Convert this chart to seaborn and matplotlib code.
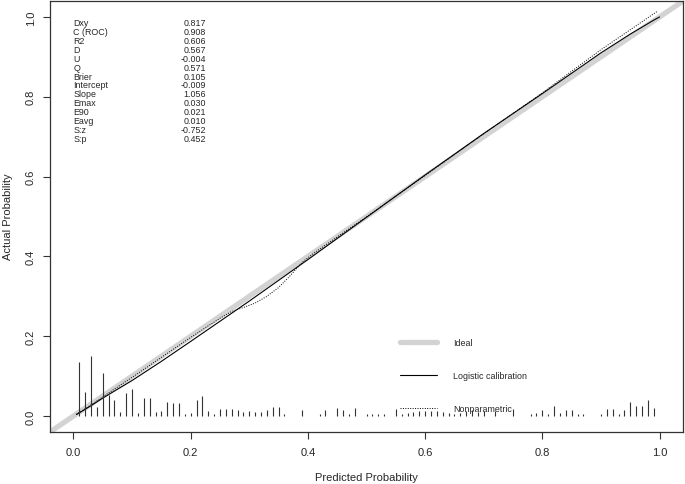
import matplotlib
matplotlib.use("Agg")
import matplotlib.pyplot as plt
import seaborn as sns
import numpy as np
import pandas as pd

# ---- data ----
stat_names = ["Dxy", "C (ROC)", "R2", "D", "U", "Q", "Brier", "Intercept",
              "Slope", "Emax", "E90", "Eavg", "S:z", "S:p"]
stat_values = ["0.817", "0.908", "0.606", "0.567", "-0.004", "0.571", "0.105",
               "-0.009", "1.056", "0.030", "0.021", "0.010", "-0.752", "0.452"]

logistic_x = [0.005, 0.01, 0.03, 0.05, 0.10, 0.15, 0.20, 0.30, 0.40, 0.50,
              0.60, 0.70, 0.80, 0.90, 0.95, 0.99, 1.00]
logistic_y = [0.004, 0.008, 0.026, 0.045, 0.089, 0.137, 0.187, 0.288, 0.392,
              0.498, 0.604, 0.708, 0.808, 0.910, 0.957, 0.992, 1.000]

nonpar_x = [0.005, 0.03, 0.06, 0.10, 0.15, 0.20, 0.23, 0.25, 0.27, 0.29,
            0.31, 0.33, 0.35, 0.37, 0.39, 0.41, 0.45, 0.50, 0.60, 0.70,
            0.80, 0.90, 0.95, 0.997]
nonpar_y = [0.004, 0.028, 0.058, 0.097, 0.147, 0.197, 0.226, 0.245, 0.262,
            0.272, 0.283, 0.300, 0.322, 0.352, 0.385, 0.408, 0.449, 0.499,
            0.603, 0.707, 0.810, 0.918, 0.968, 1.015]

spike_x = [0.01, 0.02, 0.03, 0.04, 0.05, 0.06, 0.07, 0.08, 0.09, 0.10,
           0.11, 0.12, 0.13, 0.14, 0.15, 0.16, 0.17, 0.18, 0.19, 0.20,
           0.21, 0.22, 0.23, 0.24, 0.25, 0.26, 0.27, 0.28, 0.29, 0.30,
           0.31, 0.32, 0.33, 0.34, 0.35, 0.36, 0.39, 0.42, 0.43, 0.45,
           0.46, 0.47, 0.48, 0.50, 0.51, 0.52, 0.53, 0.55, 0.56, 0.57,
           0.58, 0.59, 0.60, 0.61, 0.62, 0.63, 0.64, 0.65, 0.66, 0.67,
           0.68, 0.69, 0.70, 0.72, 0.75, 0.78, 0.79, 0.80, 0.81, 0.82,
           0.83, 0.84, 0.85, 0.86, 0.87, 0.90, 0.91, 0.92, 0.93, 0.94,
           0.95, 0.96, 0.97, 0.98, 0.99]
spike_h = [0.136, 0.059, 0.150, 0.023, 0.109, 0.053, 0.040, 0.011, 0.058, 0.068,
           0.007, 0.044, 0.044, 0.011, 0.013, 0.036, 0.032, 0.032, 0.005, 0.007,
           0.040, 0.050, 0.013, 0.005, 0.017, 0.017, 0.017, 0.015, 0.011, 0.013,
           0.010, 0.010, 0.014, 0.023, 0.023, 0.006, 0.014, 0.006, 0.014, 0.020,
           0.014, 0.006, 0.020, 0.006, 0.006, 0.006, 0.006, 0.018, 0.005, 0.008,
           0.010, 0.012, 0.012, 0.012, 0.012, 0.010, 0.008, 0.005, 0.008, 0.012,
           0.015, 0.010, 0.012, 0.012, 0.018, 0.005, 0.008, 0.015, 0.006, 0.025,
           0.008, 0.014, 0.014, 0.005, 0.004, 0.006, 0.018, 0.018, 0.006, 0.014,
           0.035, 0.024, 0.024, 0.040, 0.020]

legend_labels = ["Ideal", "Logistic calibration", "Nonparametric"]
x_ticks = [0.0, 0.2, 0.4, 0.6, 0.8, 1.0]
y_ticks = [0.0, 0.2, 0.4, 0.6, 0.8, 1.0]

# ---- style ----
sns.set_style("ticks")
plt.rcParams["font.family"] = ["Liberation Sans", "DejaVu Sans"]

fig = plt.figure(figsize=(6.85, 4.85), dpi=100)
ax = fig.add_axes([50 / 685, 1 - 433 / 485, 633 / 685, 431 / 485])
ax.set_xlim(-0.04, 1.04)
ax.set_ylim(-0.04, 1.04)

# ideal line across the whole box
ideal_df = pd.DataFrame({"x": [-0.04, 1.04], "y": [-0.04, 1.04]})
sns.lineplot(data=ideal_df, x="x", y="y", ax=ax, color="#d3d3d3", lw=3.8,
             solid_capstyle="butt")

log_df = pd.DataFrame({"x": logistic_x, "y": logistic_y})
sns.lineplot(data=log_df, x="x", y="y", ax=ax, color="black", lw=0.8,
             sort=False)

np_df = pd.DataFrame({"x": nonpar_x, "y": nonpar_y})
sns.lineplot(data=np_df, x="x", y="y", ax=ax, color="black", lw=0.7,
             linestyle=(0, (1, 1.5)), sort=False)

# spike histogram of predicted risks
ax.vlines(spike_x, 0, spike_h, color="#333333", lw=0.8)

# statistics text
y0, dy = 0.985, 0.0222
for i, (n, v) in enumerate(zip(stat_names, stat_values)):
    ax.text(0.0, y0 - i * dy, n, fontsize=6.4, ha="left", va="center")
    ax.text(0.226, y0 - i * dy, v, fontsize=6.4, ha="right", va="center")

# legend drawn in data coordinates
leg_y = [0.185, 0.102, 0.019]
ax.plot([0.557, 0.621], [leg_y[0], leg_y[0]], color="#d3d3d3", lw=3.8,
        solid_capstyle="round")
ax.plot([0.557, 0.621], [leg_y[1], leg_y[1]], color="black", lw=0.8)
ax.plot([0.557, 0.621], [leg_y[2], leg_y[2]], color="black", lw=0.7,
        linestyle=(0, (1, 1.5)))
for lab, yy in zip(legend_labels, leg_y):
    ax.text(0.648, yy, lab, fontsize=6.4, ha="left", va="center")

# axes styling (R base graphics look)
ax.set_xticks(x_ticks)
ax.set_yticks(y_ticks)
ax.set_xticklabels([f"{t:.1f}" for t in x_ticks], fontsize=8)
ax.set_yticklabels([f"{t:.1f}" for t in y_ticks], fontsize=8, rotation=90,
                   va="center")
ax.tick_params(direction="out", length=5, width=0.8, color="#333333")
ax.tick_params(axis="x", pad=6)
ax.tick_params(axis="y", pad=5)
for s in ax.spines.values():
    s.set_visible(True)
    s.set_color("#333333")
    s.set_linewidth(0.9)
ax.set_xlabel("Predicted Probability", fontsize=8)
ax.set_ylabel("Actual Probability", fontsize=8)
ax.xaxis.set_label_coords((366 - 50) / 633, (433 - 478) / 431)
ax.yaxis.set_label_coords((8 - 50) / 633, (433 - 217) / 431)
ax.xaxis.label.set_va("center")
ax.yaxis.label.set_va("center")

fig.savefig("out.png", dpi=100)
